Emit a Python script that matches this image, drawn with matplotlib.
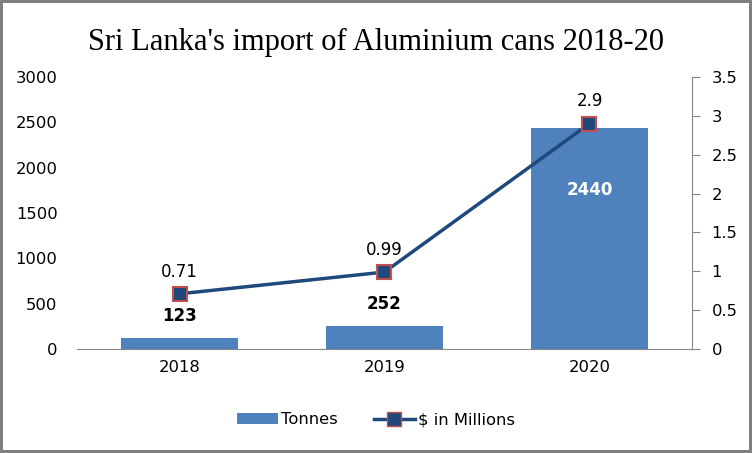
import numpy as np
import matplotlib.pyplot as plt
from matplotlib.lines import Line2D
from matplotlib.patches import Patch

years = ["2018", "2019", "2020"]
tonnes = [123, 252, 2440]
usd_millions = [0.71, 0.99, 2.9]

bar_color = "#4F81BD"
line_color = "#1F497D"
marker_edge = "#C0504D"
gray = "#868686"

plt.rcParams["font.family"] = ["DejaVu Sans"]

fig = plt.figure(figsize=(7.52, 4.53), dpi=100)
fig.patch.set_edgecolor("#7f7f7f")
fig.patch.set_linewidth(3)

ax = fig.add_axes([0.1024, 0.2296, 0.8178, 0.6004])
x = np.arange(len(years))

ax.bar(x, tonnes, width=0.57, color=bar_color, zorder=2)
ax.set_ylim(0, 3000)
ax.set_xlim(-0.5, 2.5)
ax.set_yticks(np.arange(0, 3001, 500))
ax.set_xticks(x)
ax.set_xticklabels(years)
ax.tick_params(axis="both", length=0, labelsize=11.8, colors="black", pad=8)
ax.tick_params(axis="y", pad=14)
for s in ["top", "right", "left"]:
    ax.spines[s].set_visible(False)
ax.spines["bottom"].set_color(gray)

# tonnes labels: inside the tall bar, above the short ones
for i, v in enumerate(tonnes):
    if v > 1000:
        ax.text(i, v - 690, str(v), ha="center", va="center", color="white",
                fontsize=12, fontweight="bold")
    else:
        ax.text(i, v + 140, str(v), ha="center", va="bottom",
                fontsize=12, fontweight="bold")

ax2 = ax.twinx()
ax2.plot(x, usd_millions, color=line_color, linewidth=2.5, marker="s",
         markersize=10, markerfacecolor=line_color, markeredgecolor=marker_edge,
         markeredgewidth=1.5, zorder=3)
ax2.set_ylim(0, 3.5)
ax2.set_yticks(np.arange(0, 3.51, 0.5))
ax2.set_yticklabels(["0", "0.5", "1", "1.5", "2", "2.5", "3", "3.5"])
ax2.tick_params(axis="y", length=6, color=gray, labelsize=11.8, pad=8)
for s in ["top", "left", "bottom"]:
    ax2.spines[s].set_visible(False)
ax2.spines["right"].set_color(gray)

for i, v in enumerate(usd_millions):
    ax2.text(i, v + 0.17, f"{v:g}", ha="center", va="bottom", fontsize=12)

fig.text(0.5, 0.907, "Sri Lanka's import of Aluminium cans 2018-20", ha="center",
         va="center", fontsize=22, family="Liberation Serif")

handles = [Patch(facecolor=bar_color, label="Tonnes"),
           Line2D([], [], color=line_color, linewidth=2.5, marker="s", markersize=10,
                  markerfacecolor=line_color, markeredgecolor=marker_edge,
                  label="$ in Millions")]
fig.legend(handles=handles, loc="center", bbox_to_anchor=(0.5, 0.073), ncol=2,
           frameon=False, fontsize=11.8, handlelength=2.5, handletextpad=0.2,
           columnspacing=2.2)

fig.savefig("out.png", dpi=100)
